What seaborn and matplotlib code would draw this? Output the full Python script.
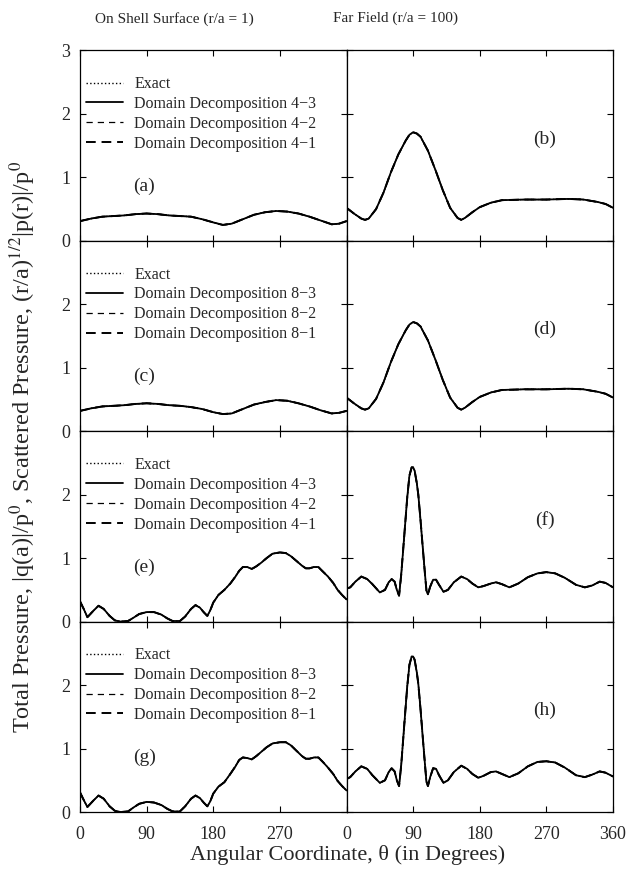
import matplotlib
matplotlib.use("Agg")
import matplotlib.pyplot as plt
import seaborn as sns

# values (all four curves coincide at this scale)
theta_a = [0, 15, 30, 45, 60, 75, 90, 105, 120, 135, 150, 165, 180, 193, 205, 220, 235, 250, 265, 280, 295, 310, 325, 340, 350, 360]
p_a = [0.31, 0.35, 0.38, 0.39, 0.40, 0.42, 0.43, 0.42, 0.40, 0.39, 0.38, 0.34, 0.29, 0.25, 0.27, 0.34, 0.41, 0.45, 0.47, 0.46, 0.43, 0.38, 0.32, 0.26, 0.27, 0.31]
p_c = [0.32, 0.36, 0.39, 0.40, 0.41, 0.43, 0.44, 0.43, 0.41, 0.40, 0.38, 0.35, 0.30, 0.27, 0.28, 0.35, 0.42, 0.46, 0.49, 0.48, 0.44, 0.39, 0.33, 0.28, 0.29, 0.32]

theta_b = [0, 10, 20, 25, 30, 40, 50, 60, 70, 80, 85, 90, 95, 100, 110, 120, 130, 140, 150, 155, 160, 170, 180, 195, 210, 240, 270, 300, 320, 340, 350, 360]
p_b = [0.52, 0.43, 0.35, 0.33, 0.35, 0.50, 0.76, 1.08, 1.36, 1.58, 1.67, 1.71, 1.69, 1.64, 1.42, 1.12, 0.80, 0.52, 0.36, 0.33, 0.36, 0.45, 0.53, 0.60, 0.64, 0.65, 0.65, 0.66, 0.65, 0.61, 0.58, 0.52]
p_d = [0.53, 0.44, 0.36, 0.34, 0.36, 0.51, 0.77, 1.09, 1.37, 1.59, 1.68, 1.72, 1.70, 1.65, 1.43, 1.13, 0.81, 0.53, 0.37, 0.34, 0.37, 0.46, 0.54, 0.61, 0.65, 0.66, 0.66, 0.67, 0.66, 0.62, 0.59, 0.53]

theta_e = [0, 5, 10, 18, 25, 32, 40, 47, 55, 65, 72, 80, 90, 100, 110, 118, 125, 135, 142, 150, 156, 162, 167, 172, 176, 180, 187, 195, 203, 210, 215, 220, 226, 232, 238, 245, 252, 260, 270, 278, 285, 292, 300, 305, 310, 316, 322, 328, 335, 342, 348, 354, 360]
p_e = [0.32, 0.20, 0.07, 0.17, 0.25, 0.20, 0.09, 0.02, 0.00, 0.01, 0.06, 0.12, 0.15, 0.15, 0.11, 0.05, 0.01, 0.01, 0.08, 0.20, 0.26, 0.22, 0.15, 0.09, 0.18, 0.30, 0.42, 0.50, 0.60, 0.71, 0.80, 0.86, 0.86, 0.83, 0.87, 0.93, 1.00, 1.07, 1.09, 1.08, 1.03, 0.96, 0.88, 0.84, 0.84, 0.86, 0.86, 0.79, 0.71, 0.61, 0.50, 0.42, 0.35]
p_g = [0.31, 0.19, 0.08, 0.18, 0.26, 0.21, 0.09, 0.02, 0.00, 0.01, 0.07, 0.13, 0.16, 0.15, 0.11, 0.05, 0.01, 0.01, 0.09, 0.21, 0.26, 0.22, 0.15, 0.09, 0.17, 0.29, 0.40, 0.47, 0.60, 0.72, 0.82, 0.86, 0.85, 0.83, 0.88, 0.95, 1.02, 1.08, 1.10, 1.10, 1.05, 0.97, 0.88, 0.84, 0.84, 0.86, 0.86, 0.79, 0.70, 0.60, 0.49, 0.41, 0.34]

theta_f = [0, 5, 12, 20, 28, 35, 45, 52, 57, 61, 65, 68, 71, 74, 78, 82, 85, 88, 90, 92, 95, 97, 100, 103, 106, 108, 110, 113, 117, 121, 125, 131, 137, 145, 155, 163, 170, 178, 185, 195, 202, 210, 220, 232, 245, 258, 270, 282, 295, 310, 322, 332, 342, 350, 360]
p_f = [0.52, 0.54, 0.63, 0.71, 0.67, 0.59, 0.46, 0.50, 0.62, 0.67, 0.63, 0.50, 0.41, 0.75, 1.35, 1.95, 2.30, 2.43, 2.43, 2.38, 2.18, 2.00, 1.60, 1.17, 0.75, 0.49, 0.43, 0.55, 0.66, 0.66, 0.58, 0.47, 0.50, 0.62, 0.71, 0.67, 0.60, 0.54, 0.56, 0.60, 0.62, 0.59, 0.54, 0.60, 0.70, 0.76, 0.78, 0.76, 0.69, 0.58, 0.54, 0.57, 0.63, 0.61, 0.54]
p_h = [0.52, 0.55, 0.64, 0.72, 0.68, 0.58, 0.46, 0.50, 0.63, 0.69, 0.64, 0.50, 0.41, 0.75, 1.37, 1.97, 2.32, 2.45, 2.45, 2.40, 2.20, 2.02, 1.62, 1.18, 0.75, 0.48, 0.41, 0.55, 0.69, 0.68, 0.58, 0.46, 0.50, 0.63, 0.73, 0.68, 0.60, 0.54, 0.57, 0.63, 0.64, 0.60, 0.55, 0.61, 0.72, 0.79, 0.80, 0.78, 0.70, 0.58, 0.55, 0.59, 0.64, 0.62, 0.56]

left_curves = [(theta_a, p_a, "(a)", "4"), (theta_a, p_c, "(c)", "8"),
               (theta_e, p_e, "(e)", "4"), (theta_e, p_g, "(g)", "8")]
right_curves = [(theta_b, p_b, "(b)"), (theta_b, p_d, "(d)"),
                (theta_f, p_f, "(f)"), (theta_f, p_h, "(h)")]

sns.set_theme(style="ticks")
plt.rcParams["font.family"] = ["Liberation Serif", "DejaVu Serif"]
plt.rcParams["mathtext.fontset"] = "stix"

fig, axes = plt.subplots(4, 2, figsize=(6.3, 8.84), dpi=100)
fig.subplots_adjust(left=0.127, right=0.973, bottom=0.0814, top=0.943, hspace=0, wspace=0)

styles = [("Exact", ":", 1.0), ("Domain Decomposition {}\u22123", "-", 1.3),
          ("Domain Decomposition {}\u22122", (0, (5, 4)), 0.9),
          ("Domain Decomposition {}\u22121", (0, (5, 3)), 1.4)]

for row in range(4):
    th, val, tag, nd = left_curves[row]
    ax = axes[row, 0]
    for lab, ls, lw in [styles[0], styles[2], styles[3], styles[1]]:
        sns.lineplot(x=th, y=val, ax=ax, color="black", linestyle=ls, lw=lw,
                     label=lab.format(nd))
    h, l = ax.get_legend_handles_labels()
    order = [0, 3, 1, 2]
    ax.legend([h[i] for i in order], [l[i] for i in order], loc="upper left",
              bbox_to_anchor=(-0.03, 0.94), frameon=False, fontsize=11.5,
              handlelength=2.3, labelspacing=0.24, handletextpad=0.7)
    ax.text(87, 0.86, tag, fontsize=14, ha="center", va="center")

    th, val, tag = right_curves[row]
    ax = axes[row, 1]
    for lab, ls, lw in [styles[0], styles[2], styles[3], styles[1]]:
        sns.lineplot(x=th, y=val, ax=ax, color="black", linestyle=ls, lw=lw, legend=False)
    ax.text(268, 1.6, tag, fontsize=14, ha="center", va="center")

for row in range(4):
    for col in range(2):
        ax = axes[row, col]
        ax.set_xlim(0, 360)
        ax.set_ylim(0, 3)
        ax.set_xlabel("")
        ax.set_ylabel("")
        ax.set_xticks([0, 90, 180, 270, 360])
        ax.set_yticks([0, 1, 2, 3])
        ax.tick_params(direction="in", top=True, right=True, length=4, width=0.8,
                       labelsize=13, color="black")
        ax.tick_params(axis="y", pad=7)
        ax.tick_params(axis="x", pad=10)
        for s in ax.spines.values():
            s.set_linewidth(0.9)
            s.set_color("black")
        if col == 0:
            ylab = ["0", "1", "2", "3"] if row == 0 else ["0", "1", "2", ""]
            ax.set_yticklabels(ylab)
        else:
            ax.set_yticklabels([])
        if row == 3:
            xlab = ["0", "90", "180", "270", ""] if col == 0 else ["0", "90", "180", "270", "360"]
            ax.set_xticklabels(xlab)
        else:
            ax.set_xticklabels([])

fig.text(0.276, 0.979, "On Shell Surface (r/a = 1)", fontsize=11, ha="center", va="center")
fig.text(0.627, 0.979, "Far Field (r/a = 100)", fontsize=11, ha="center", va="center")
fig.text(0.036, 0.494,
         "Total Pressure, |q(a)|/p$^0$, Scattered Pressure, (r/a)$^{1/2}$|p(r)|/p$^0$",
         rotation=90, fontsize=17.5, ha="center", va="center")
fig.text(0.551, 0.033, "Angular Coordinate, \u03b8 (in Degrees)", fontsize=16,
         ha="center", va="center")

fig.savefig("out.png", dpi=100)
